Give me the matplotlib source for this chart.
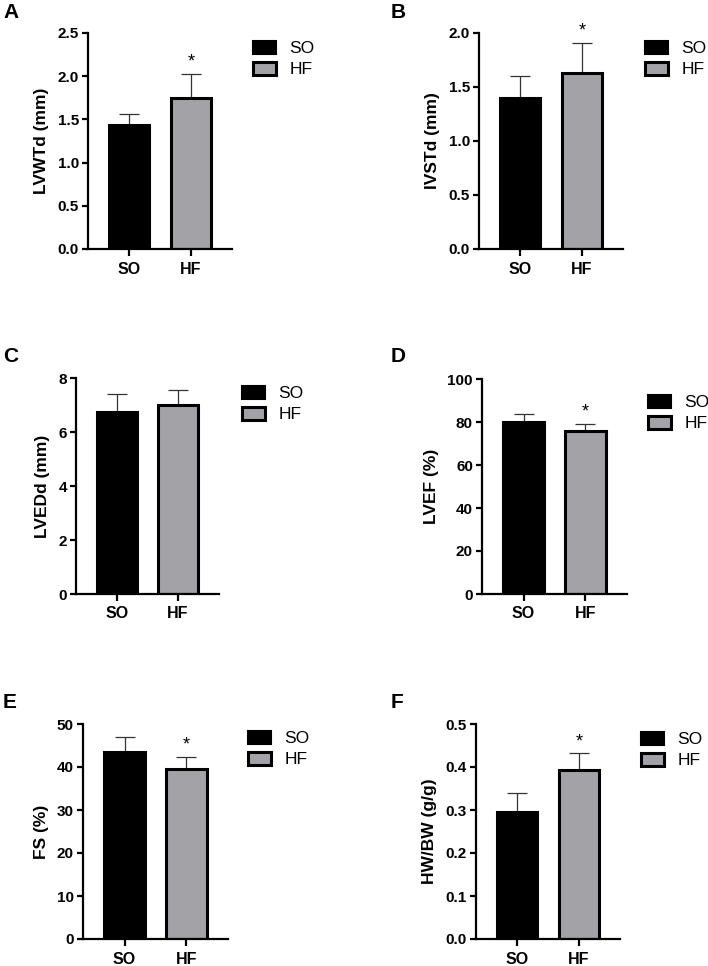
import matplotlib
matplotlib.use("Agg")
import matplotlib.pyplot as plt
from matplotlib.patches import Patch

plt.rcParams['font.family'] = ['Liberation Sans', 'DejaVu Sans']

W, H = 708, 966

groups = ['SO', 'HF']

# means and upper error (SD)
lvwtd = [1.44, 1.75]
lvwtd_err = [0.12, 0.28]
ivstd = [1.40, 1.63]
ivstd_err = [0.20, 0.28]
lvedd = [6.75, 7.00]
lvedd_err = [0.65, 0.55]
lvef = [80.0, 75.6]
lvef_err = [3.8, 3.6]
fs = [43.6, 39.6]
fs_err = [3.4, 2.8]
hwbw = [0.295, 0.394]
hwbw_err = [0.044, 0.038]

panels = [
    ('A', 'LVWTd (mm)', lvwtd, lvwtd_err, (0, 2.5), [0, 0.5, 1.0, 1.5, 2.0, 2.5], '{:.1f}', [False, True]),
    ('B', 'IVSTd (mm)', ivstd, ivstd_err, (0, 2.0), [0, 0.5, 1.0, 1.5, 2.0], '{:.1f}', [False, True]),
    ('C', 'LVEDd (mm)', lvedd, lvedd_err, (0, 8), [0, 2, 4, 6, 8], '{:.0f}', [False, False]),
    ('D', 'LVEF (%)', lvef, lvef_err, (0, 100), [0, 20, 40, 60, 80, 100], '{:.0f}', [False, True]),
    ('E', 'FS (%)', fs, fs_err, (0, 50), [0, 10, 20, 30, 40, 50], '{:.0f}', [False, True]),
    ('F', 'HW/BW (g/g)', hwbw, hwbw_err, (0, 0.5), [0, 0.1, 0.2, 0.3, 0.4, 0.5], '{:.1f}', [False, True]),
]

# axes boxes in pixels: left, right, top, bottom
boxes = [
    (88, 232, 33, 249),
    (479, 623, 33, 249),
    (76, 219, 378, 594),
    (482, 627, 379, 594),
    (83, 228, 724, 939),
    (476, 620, 724, 939),
]
# legend anchor (left x, middle y) and panel letter (x, baseline y)
legend_pos = [(253, 59), (645, 59), (242, 404), (648, 413), (248, 749), (641, 750)]
letter_pos = [(3, 18), (391, 18), (3, 362), (391, 362), (3, 708), (391, 708)]

gray = '#a3a3a7'
colors = ['black', gray]

fig = plt.figure(figsize=(W / 100, H / 100), dpi=100)

for i, (letter, ylab, vals, errs, ylim, yticks, fmt, stars) in enumerate(panels):
    l, r, t, b = boxes[i]
    ax = fig.add_axes([l / W, 1 - b / H, (r - l) / W, (b - t) / H])
    x = [0, 1]
    ax.errorbar(x, vals, yerr=[[0, 0], errs], fmt='none', ecolor='#333333',
                elinewidth=0.9, capsize=7, capthick=0.9, zorder=1)
    ax.bar(x, vals, width=0.65, color=colors, edgecolor='black', linewidth=2.2, zorder=2)
    for j in range(2):
        if stars[j]:
            ax.text(x[j], vals[j] + errs[j] + (ylim[1] - ylim[0]) * 0.015, '*',
                    ha='center', va='bottom', fontsize=13)
    ax.set_xlim(-0.67, 1.67)
    ax.set_ylim(*ylim)
    ax.set_yticks(yticks)
    ax.set_yticklabels([fmt.format(v) for v in yticks], fontweight='bold')
    ax.set_xticks(x)
    ax.set_xticklabels(groups, fontweight='bold')
    ax.spines['top'].set_visible(False)
    ax.spines['right'].set_visible(False)
    ax.spines['left'].set_linewidth(1.6)
    ax.spines['bottom'].set_linewidth(1.6)
    ax.tick_params(axis='y', labelsize=11, width=1.6, length=4.5, pad=2)
    ax.tick_params(axis='x', labelsize=11.5, width=1.6, length=5, pad=4)
    ax.set_ylabel(ylab, fontsize=12.5, fontweight='bold', labelpad=6)

    handles = [Patch(facecolor='black', edgecolor='black', linewidth=1.5),
               Patch(facecolor=gray, edgecolor='black', linewidth=2.2)]
    lx, ly = legend_pos[i]
    ax.legend(handles, groups, loc='center left', bbox_to_anchor=(lx / W, 1 - ly / H),
              bbox_transform=fig.transFigure, frameon=False, borderpad=0, borderaxespad=0,
              fontsize=12.5, handlelength=1.3, handleheight=0.8, handletextpad=0.8,
              labelspacing=0.3)

    px, py = letter_pos[i]
    fig.text(px / W, 1 - py / H, letter, fontsize=15, fontweight='bold', va='baseline', ha='left')

fig.savefig('out.png', dpi=100)
